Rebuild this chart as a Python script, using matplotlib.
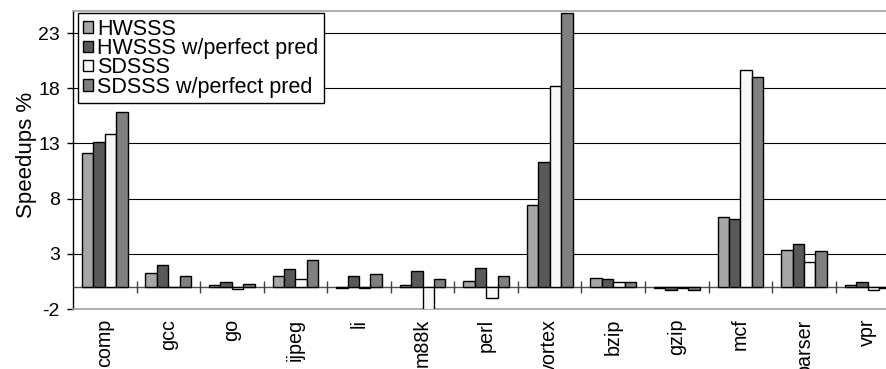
# Speedups chart: HWSSS vs SDSSS

import numpy as np
import matplotlib.pyplot as plt

plt.rcParams['font.family'] = ['Liberation Sans', 'DejaVu Sans']
plt.rcParams['axes.unicode_minus'] = False

# Data

categories = ["comp", "gcc", "go", "ijpeg", "li", "m88k", "perl", "vortex",
              "bzip", "gzip", "mcf", "parser", "vpr"]
hwsss      = [12.16, 1.28, 0.16, 0.97, -0.10, 0.14, 0.56, 7.38, 0.83, -0.10, 6.30, 3.36, 0.16]
hwsss_pp   = [13.10, 1.97, 0.43, 1.64, 0.97, 1.40, 1.67, 11.30, 0.74, -0.25, 6.15, 3.93, 0.47]
sdsss      = [13.82, 0.00, -0.16, 0.70, -0.10, -2.10, -0.97, 18.16, 0.41, -0.10, 19.69, 2.24, -0.29]
sdsss_pp   = [15.86, 0.97, 0.29, 2.48, 1.16, 0.70, 1.01, 24.84, 0.43, -0.25, 19.00, 3.27, -0.12]

series = [hwsss, hwsss_pp, sdsss, sdsss_pp]
labels = ["HWSSS", "HWSSS w/perfect pred", "SDSSS", "SDSSS w/perfect pred"]
colors = ["#a6a6a6", "#595959", "#f8f8f8", "#808080"]

yticks = [-2, 3, 8, 13, 18, 23]

# Figure

W, H = 887, 369
fig = plt.figure(figsize=(W / 100, H / 100), dpi=100)
ax = fig.add_axes([73 / W, (H - 309) / H, (899.3 - 73) / W, (309 - 11) / H])

x = np.arange(len(categories))
bw = 0.18
for i, (vals, lab, col) in enumerate(zip(series, labels, colors)):
    ax.bar(x + (i - 1.5) * bw, vals, width=bw, color=col, edgecolor="black",
           linewidth=1, label=lab, zorder=3)

# gridlines and zero axis
for yt in yticks[1:]:
    ax.axhline(yt, color="black", linewidth=0.8, zorder=1)
ax.axhline(0, color="#505050", linewidth=1, zorder=2)
ax.vlines(x[1:] - 0.5, -0.55, 0.55, color="#404040", linewidth=1, zorder=2)

ax.set_xlim(-0.5, len(categories) - 0.5)
ax.set_ylim(-2, 25)
ax.set_yticks(yticks)
ax.tick_params(axis="y", direction="out", length=4.5, width=1, pad=5, labelsize=14)
ax.set_xticks(x)
ax.set_xticklabels(categories, rotation=90, fontsize=14.2)
ax.tick_params(axis="x", length=0, pad=7)

ax.spines["left"].set_color("black")
ax.spines["left"].set_linewidth(1)
ax.spines["top"].set_color("#a0a0a0")
ax.spines["top"].set_linewidth(1.2)
ax.spines["bottom"].set_color("#a0a0a0")
ax.spines["bottom"].set_linewidth(1.2)
ax.spines["right"].set_visible(False)

ax.set_ylabel("Speedups %", fontsize=16)
ax.yaxis.set_label_coords(-0.043, 0.517)

leg = ax.legend(loc="upper left", bbox_to_anchor=(0.0057, 0.992), borderaxespad=0,
                fontsize=15.5, frameon=True, fancybox=False, framealpha=1,
                edgecolor="black", handlelength=0.45, handleheight=0.45,
                handletextpad=0.2, labelspacing=-0.08, borderpad=0.25)
leg.get_frame().set_linewidth(1)
leg.set_zorder(5)

fig.savefig("out.png", dpi=100)
